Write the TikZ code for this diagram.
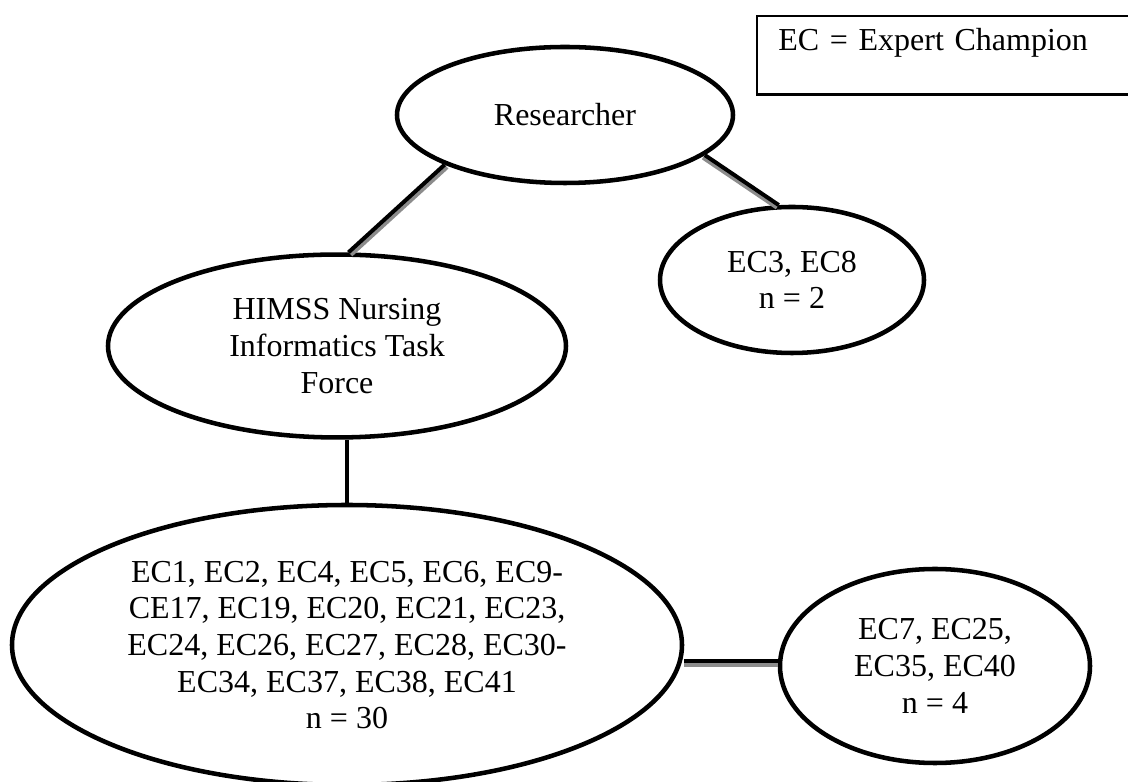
\documentclass[tikz,border=0pt]{standalone}
\usepackage{fontspec}
\setmainfont{Liberation Serif}
\usetikzlibrary{shapes.geometric}

\tikzset{
  group/.style={ellipse, draw, line width=1.7pt, inner sep=0pt, align=center},
  link/.style={line width=1.5pt},
  shadowlink/.style={link, preaction={draw=black!45, line width=2pt, transform canvas={shift={#1}}}},
}

\begin{document}
\begin{tikzpicture}[x=0.375pt, y=-0.375pt, font=\fontsize{12}{13.75}\selectfont]
		\clip (0,0) rectangle (1128,782);

		% Legend
		\node[draw, line width=0.8pt, anchor=north west, minimum width=144pt, text width=128pt, align=left,
			inner xsep=7.9pt, inner ysep=4.5pt, text height=8.6pt, text depth=11.8pt] (key) at (756,15) {EC = Expert Champion};

		% Ellipses
		\node[group, minimum width=126pt, minimum height=51pt] (res) at (565,115) {Researcher};
		\node[group, minimum width=99pt, minimum height=54.75pt] (ec3) at (792,280) {EC3, EC8\\n = 2};
		\node[group, minimum width=171.75pt, minimum height=68.6pt] (him) at (337,346) {HIMSS Nursing\\Informatics Task\\Force};
		\node[group, minimum width=251.25pt, minimum height=105pt] (big) at (347,645)
			{EC1, EC2, EC4, EC5, EC6, EC9-\\CE17, EC19, EC20, EC21, EC23,\\EC24, EC26, EC27, EC28, EC30-\\EC34, EC37, EC38, EC41\\n = 30};
		\node[group, minimum width=116.25pt, minimum height=72.75pt] (small) at (935,666) {EC7, EC25,\\EC35, EC40\\n = 4};

		% Connectors
		\draw[shadowlink={(2,2)}] (res.south west) -- (him.83);
		\draw[shadowlink={(-1.5,2)}] (res.-16) -- (ec3.100);
		\draw[link] (big.north) -- (big.north |- him.south);
		\draw[shadowlink={(0,4)}] (small.178) -- (small.178 -| big.east);
	\end{tikzpicture}
\end{document}
